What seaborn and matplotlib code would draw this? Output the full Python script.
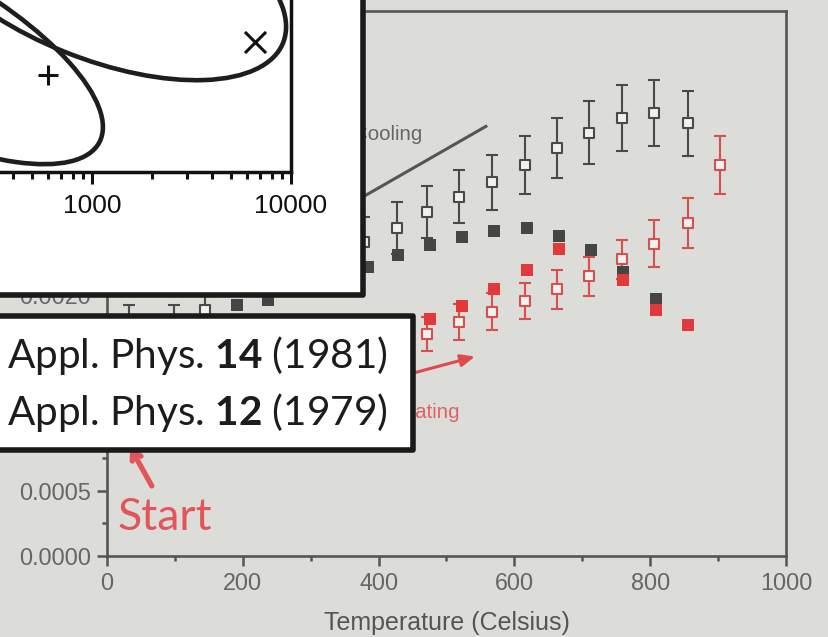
import numpy as np
import matplotlib
matplotlib.use("Agg")
import matplotlib.pyplot as plt
from matplotlib.patches import Ellipse, Rectangle
from matplotlib.ticker import (MultipleLocator, FixedLocator, LogLocator,
                               NullFormatter, FuncFormatter)
import seaborn as sns

# ---------------- data ----------------
# cooling run, open squares with error bars
cool_open_T = [32, 99, 144, 379, 427, 472, 519, 567, 615, 663, 710, 758, 806, 855]
cool_open_val = [0.00173, 0.00173, 0.00188, 0.00240, 0.00251, 0.00263, 0.00275,
                 0.00286, 0.00299, 0.00312, 0.00324, 0.00335, 0.00339, 0.00331]
cool_open_err = [0.00019, 0.00019, 0.00019, 0.00019, 0.00020, 0.00020, 0.00020,
                 0.00021, 0.00022, 0.00023, 0.00024, 0.00025, 0.00025, 0.00025]

# cooling run, filled squares
cool_fill_T = [191, 237, 384, 428, 476, 523, 570, 618, 665, 713, 760, 808]
cool_fill_val = [0.00192, 0.00196, 0.00221, 0.00230, 0.00238, 0.00244, 0.00249,
                 0.00251, 0.00245, 0.00234, 0.00217, 0.00197]

# heating run, open squares with error bars
heat_open_T = [472, 519, 567, 615, 663, 710, 758, 805, 855, 903]
heat_open_val = [0.00170, 0.00179, 0.00187, 0.00195, 0.00204, 0.00214, 0.00227,
                 0.00239, 0.00255, 0.00299]
heat_open_err = [0.00013, 0.00014, 0.00014, 0.00014, 0.00015, 0.00015, 0.00015,
                 0.00018, 0.00019, 0.00022]

# heating run, filled squares
heat_fill_T = [476, 523, 570, 618, 665, 760, 808, 856]
heat_fill_val = [0.00181, 0.00191, 0.00204, 0.00219, 0.00235, 0.00211, 0.00188, 0.00177]

x_ticks = [0, 200, 400, 600, 800, 1000]
y_ticks = [0.0000, 0.0005, 0.0010, 0.0015, 0.0020, 0.0025, 0.0030, 0.0035, 0.0040]
# labels that sit under the overlaid boxes are left blank
y_ticklabels = ["0.0000", "0.0005", "", "", "0.0020", "", "", "", ""]

# inset: two confidence loops on a log axis (centre x, centre y, width in decades, height, angle)
loop_cx = [1067, 115]
loop_cy = [1.025, 0.668]
loop_w = [2.010, 2.211]
loop_h = [0.905, 0.804]
loop_ang = [-22, -28]
plus_x, plus_y = [601], [0.487]
cross_x, cross_y = [6592], [0.653]
inset_ticks = [1000, 10000]

refs = [r"Appl. Phys. $\mathbf{14}$ (1981)",
        r"Appl. Phys. $\mathbf{12}$ (1979)"]

# ---------------- style ----------------
BG = "#dcdcd8"
GRAY = "#4a4a4a"
GRAY_FILL = "#454545"
RED_OPEN = "#d6504e"
RED_FILL = "#e23a3b"
RED_TXT = "#e2565a"
OPEN_FACE = "#f1f1ef"
AX_COL = "#555555"

sns.set_theme(style="ticks")
plt.rcParams["font.family"] = ["Liberation Sans", "DejaVu Sans"]
plt.rcParams["mathtext.fontset"] = "custom"
plt.rcParams["mathtext.rm"] = "Lato"
plt.rcParams["mathtext.bf"] = "Lato:bold"

W, H = 829, 637
fig = plt.figure(figsize=(W / 100, H / 100), dpi=100)
fig.patch.set_facecolor(BG)

# ---------------- main chart ----------------
ax = fig.add_axes([107 / W, (H - 556) / H, 679 / W, 545 / H], zorder=0)
ax.set_facecolor(BG)

ax.errorbar(cool_open_T, cool_open_val, yerr=cool_open_err, fmt="none",
            ecolor=GRAY, elinewidth=1.5, capsize=4.3, capthick=1.5, zorder=2)
sns.scatterplot(x=cool_open_T, y=cool_open_val, marker="s", s=46, color=OPEN_FACE,
                edgecolor=GRAY, linewidth=1.5, ax=ax, zorder=3)

ax.errorbar(heat_open_T, heat_open_val, yerr=heat_open_err, fmt="none",
            ecolor=RED_OPEN, elinewidth=1.5, capsize=4.6, capthick=1.5, zorder=2)
sns.scatterplot(x=heat_open_T, y=heat_open_val, marker="s", s=46, color=OPEN_FACE,
                edgecolor=RED_OPEN, linewidth=1.5, ax=ax, zorder=3)

sns.scatterplot(x=cool_fill_T, y=cool_fill_val, marker="s", s=82, color=GRAY_FILL,
                linewidth=0, ax=ax, zorder=4)
sns.scatterplot(x=heat_fill_T, y=heat_fill_val, marker="s", s=82, color=RED_FILL,
                linewidth=0, ax=ax, zorder=5)

# annotations inside the chart
cool_line_T = [284, 560]
cool_line_v = [0.002471, 0.003293]
ax.plot(cool_line_T, cool_line_v, color="#555555", lw=2.2, solid_capstyle="butt", zorder=1)
ax.text(363, 0.003185, "Cooling", fontsize=14.8, color="#666666", ha="left", va="baseline")

ax.annotate("", xy=(542, 0.001526), xytext=(284, 0.001168),
            arrowprops=dict(arrowstyle="-|>,head_length=0.7,head_width=0.3",
                            lw=2.2, color="#df4a4a", shrinkA=0, shrinkB=0))
ax.text(416, 0.001057, "Heating", fontsize=14.8, color="#e06266", ha="left", va="baseline")

ax.annotate("", xy=(34, 0.000835), xytext=(66, 0.000536),
            arrowprops=dict(arrowstyle="->,head_length=0.5,head_width=0.3",
                            lw=3.8, color=RED_TXT, shrinkA=0, shrinkB=0))
ax.text(16, 0.0002, "Start", family="Lato", fontsize=32, color=RED_TXT,
        ha="left", va="baseline")

ax.set_xlim(0, 1000)
ax.set_ylim(0, 0.00417)
ax.xaxis.set_major_locator(FixedLocator(x_ticks))
ax.xaxis.set_minor_locator(MultipleLocator(100))
ax.set_yticks(y_ticks, y_ticklabels)
ax.yaxis.set_minor_locator(MultipleLocator(0.00025))
ax.tick_params(which="both", direction="out", color=AX_COL, width=1.8,
               labelcolor="#666666", labelsize=16.8, pad=4.3)
ax.tick_params(which="major", length=7)
ax.tick_params(which="minor", length=3.6)
for sp in ax.spines.values():
    sp.set_color(AX_COL)
    sp.set_linewidth(1.9)
ax.set_xlabel("Temperature (Celsius)", fontsize=18, color="#555555", labelpad=12)
ax.set_ylabel("")

# ---------------- inset frame ----------------
fig.add_artist(Rectangle((-30 / W, (H - 294.5) / H), (363 + 30) / W, (294.5 + 30) / H,
                         transform=fig.transFigure, facecolor="white",
                         edgecolor="#1a1a1a", lw=4, joinstyle="round", zorder=5))

ax_in = fig.add_axes([-107 / W, (H - 172) / H, 398 / W, 238.8 / H], zorder=6)
ax_in.set_facecolor("white")
ax_in.set_xscale("log")
ax_in.set_xlim(100, 10000)
ax_in.set_ylim(0, 1.2)
ax_in.set_autoscale_on(False)

loop_tr = ax_in.transLimits + ax_in.transAxes
for cx, cy, w, h, a in zip(loop_cx, loop_cy, loop_w, loop_h, loop_ang):
    ax_in.add_patch(Ellipse((np.log10(cx), cy), w, h, angle=a, fill=False,
                            lw=3.3, ec="#1e1e1e", transform=loop_tr))
sns.scatterplot(x=plus_x, y=plus_y, marker="+", s=200, color="#111111",
                linewidth=2.2, ax=ax_in, zorder=4)
sns.scatterplot(x=cross_x, y=cross_y, marker="x", s=230, color="#111111",
                linewidth=2.2, ax=ax_in, zorder=4)
ax_in.set_xlim(100, 10000)
ax_in.set_ylim(0, 1.2)

ax_in.xaxis.set_major_locator(FixedLocator(inset_ticks))
ax_in.xaxis.set_major_formatter(FuncFormatter(lambda v, p: f"{v:.0f}"))
ax_in.xaxis.set_minor_locator(LogLocator(base=10, subs=np.arange(2, 10)))
ax_in.xaxis.set_minor_formatter(NullFormatter())
ax_in.yaxis.set_major_locator(FixedLocator([]))
ax_in.yaxis.set_minor_locator(FixedLocator([]))
ax_in.tick_params(axis="x", which="both", direction="out", color="#111111",
                  width=2.2, labelsize=19, labelcolor="#111111", pad=7)
ax_in.tick_params(axis="x", which="major", length=8.6)
ax_in.tick_params(axis="x", which="minor", length=5)
for sp in ax_in.spines.values():
    sp.set_color("#111111")
    sp.set_linewidth(2.5)
ax_in.set_xlabel("")
ax_in.set_ylabel("")

# ---------------- reference box ----------------
fig.add_artist(Rectangle((-30 / W, (H - 449.7) / H), (413 + 30) / W, (449.7 - 316) / H,
                         transform=fig.transFigure, facecolor="white",
                         edgecolor="#1a1a1a", lw=4, joinstyle="round", zorder=5))
for txt, base in zip(refs, [368, 425]):
    fig.text(388 / W, (H - base) / H, txt, ha="right", va="baseline",
             fontsize=29.2, family="Lato", color="#1c1c1c", zorder=7)

fig.savefig("out.png", dpi=100, facecolor=fig.get_facecolor())
